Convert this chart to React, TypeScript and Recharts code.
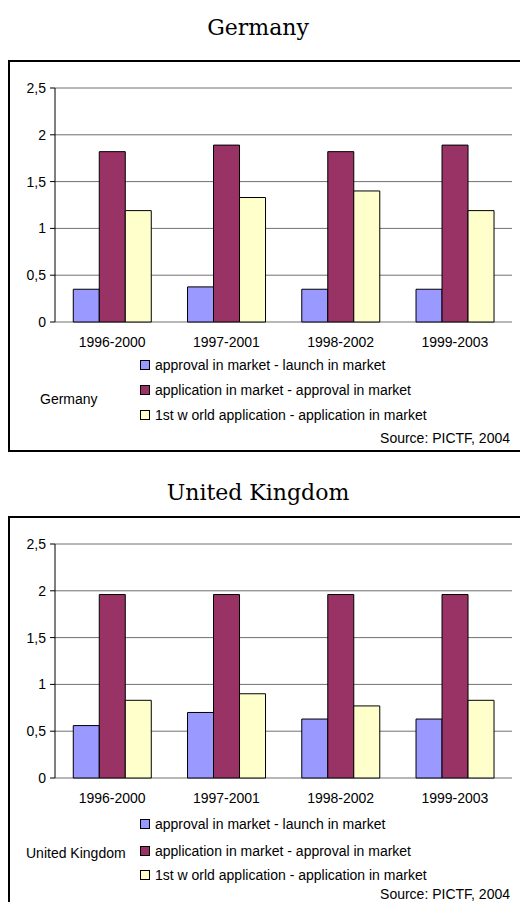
import { BarChart, Bar, XAxis, YAxis, CartesianGrid } from 'recharts'

const categories = ['1996-2000', '1997-2001', '1998-2002', '1999-2003']

// Germany
const deApprovalLaunch = [0.35, 0.375, 0.35, 0.35]
const deApplicationApproval = [1.82, 1.89, 1.82, 1.89]
const deWorldApplication = [1.19, 1.33, 1.4, 1.19]

// United Kingdom
const ukApprovalLaunch = [0.56, 0.7, 0.63, 0.63]
const ukApplicationApproval = [1.96, 1.96, 1.96, 1.96]
const ukWorldApplication = [0.83, 0.9, 0.77, 0.83]

const seriesNames = [
  'approval in market - launch in market',
  'application in market - approval in market',
  '1st w orld application - application in market',
]
const seriesKeys = ['approvalLaunch', 'applicationApproval', 'worldApplication']
const seriesColors = ['#9999FF', '#993366', '#FFFFCC']
const yTicks = [0, 0.5, 1, 1.5, 2, 2.5]
const edgeTicks = [0, 1, 2, 3, 4]

const sans = '"Liberation Sans", Arial, sans-serif'

const buildData = (a: number[], b: number[], c: number[]) =>
  categories.map((name, i) => ({
    name,
    approvalLaunch: a[i],
    applicationApproval: b[i],
    worldApplication: c[i],
  }))

interface PanelProps {
  title: string
  titleY: number
  boxTop: number
  label: string
  labelX: number
  labelY: number
  rowsY: number[]
  sourceY: number
  data: any[]
}

function Panel({ title, titleY, boxTop, label, labelX, labelY, rowsY, sourceY, data }: PanelProps) {
  return (
    <>
      <div
        style={{
          position: 'absolute',
          left: 0,
          width: 516,
          top: titleY - 15,
          height: 30,
          lineHeight: '30px',
          textAlign: 'center',
          fontFamily: '"DejaVu Serif", serif',
          fontSize: 22,
          color: '#000',
        }}
      >
        {title}
      </div>
      <div
        style={{
          position: 'absolute',
          left: 8,
          top: boxTop,
          width: 530,
          height: 392,
          border: '2px solid #000',
          boxSizing: 'border-box',
          background: '#fff',
        }}
      />
      <div style={{ position: 'absolute', left: 0, top: boxTop }}>
        <BarChart
          width={520}
          height={300}
          data={data}
          margin={{ top: 28, right: 8, left: 10, bottom: 8 }}
          barCategoryGap="16%"
          barGap={0}
        >
          <CartesianGrid vertical={false} stroke="#707070" />
          <XAxis
            xAxisId="edges"
            type="number"
            domain={[0, 4]}
            ticks={edgeTicks}
            allowDataOverflow
            tick={false}
            tickSize={5}
            tickLine={{ stroke: '#000' }}
            axisLine={{ stroke: '#000' }}
            height={0}
          />
          <XAxis
            dataKey="name"
            tickLine={false}
            axisLine={false}
            tickSize={6}
            tickMargin={9}
            height={30}
            tick={{ fill: '#000', fontSize: 14, fontFamily: sans }}
          />
          <YAxis
            domain={[0, 2.5]}
            ticks={yTicks}
            width={45}
            tickSize={5}
            tickMargin={4}
            tickLine={{ stroke: '#000' }}
            axisLine={{ stroke: '#000' }}
            tick={{ fill: '#000', fontSize: 14, fontFamily: sans }}
            tickFormatter={(v) => String(v).replace('.', ',')}
          />
          <YAxis
            yAxisId="r"
            orientation="right"
            domain={[0, 2.5]}
            width={0}
            tick={false}
            tickLine={false}
            axisLine={{ stroke: '#808080' }}
          />
          {seriesKeys.map((key, i) => (
            <Bar
              key={key}
              dataKey={key}
              name={seriesNames[i]}
              fill={seriesColors[i]}
              stroke="#000"
              strokeWidth={1}
              isAnimationActive={false}
            />
          ))}
        </BarChart>
      </div>
      {seriesNames.map((name, i) => (
        <div
          key={name}
          style={{
            position: 'absolute',
            left: 140,
            top: boxTop + rowsY[i] - 8,
            height: 16,
            lineHeight: '16px',
            fontFamily: sans,
            fontSize: 14,
            color: '#000',
            whiteSpace: 'nowrap',
            display: 'flex',
            alignItems: 'center',
          }}
        >
          <span
            style={{
              display: 'inline-block',
              width: 8,
              height: 8,
              border: '1px solid #000',
              background: seriesColors[i],
              marginRight: 5,
            }}
          />
          {name}
        </div>
      ))}
      <div
        style={{
          position: 'absolute',
          left: labelX,
          top: boxTop + labelY - 8,
          lineHeight: '16px',
          fontFamily: sans,
          fontSize: 14,
          color: '#000',
          whiteSpace: 'nowrap',
        }}
      >
        {label}
      </div>
      <div
        style={{
          position: 'absolute',
          right: 10,
          top: boxTop + sourceY - 8,
          lineHeight: '16px',
          fontFamily: sans,
          fontSize: 14,
          color: '#000',
          whiteSpace: 'nowrap',
        }}
      >
        Source: PICTF, 2004
      </div>
    </>
  )
}

export default function App() {
  const deData = buildData(deApprovalLaunch, deApplicationApproval, deWorldApplication)
  const ukData = buildData(ukApprovalLaunch, ukApplicationApproval, ukWorldApplication)

  return (
    <div
      style={{
        position: 'absolute',
        left: 0,
        top: 0,
        width: 520,
        height: 902,
        overflow: 'hidden',
        background: '#fff',
      }}
    >
      <Panel
        title="Germany"
        titleY={28}
        boxTop={60}
        label="Germany"
        labelX={40}
        labelY={339}
        rowsY={[305, 330, 355]}
        sourceY={378}
        data={deData}
      />
      <Panel
        title="United Kingdom"
        titleY={493}
        boxTop={516}
        label="United Kingdom"
        labelX={26}
        labelY={337}
        rowsY={[308, 335, 359]}
        sourceY={378}
        data={ukData}
      />
    </div>
  )
}
